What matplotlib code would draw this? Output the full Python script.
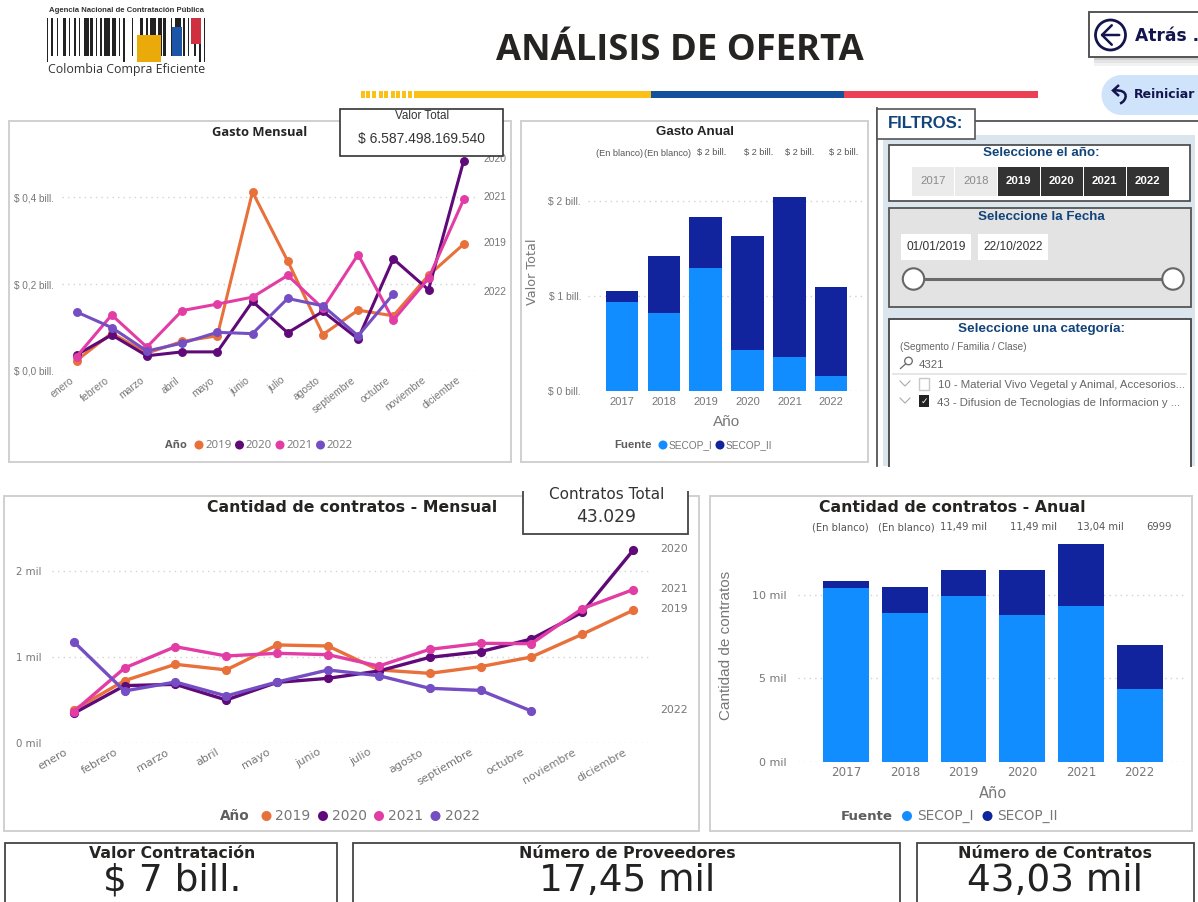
import matplotlib
matplotlib.use("Agg")
import matplotlib.pyplot as plt
from matplotlib.patches import Rectangle, FancyArrowPatch, Circle, PathPatch
from matplotlib.path import Path
from matplotlib.transforms import ScaledTranslation

W, H = 1198, 902
months = ["enero", "febrero", "marzo", "abril", "mayo", "junio", "julio", "agosto",
          "septiembre", "octubre", "noviembre", "diciembre"]
years_line = ["2019", "2020", "2021", "2022"]
years_bar = ["2017", "2018", "2019", "2020", "2021", "2022"]

gasto_2019 = [.024, .087, .041, .068, .081, .412, .253, .084, .140, .127, .220, .292]
gasto_2020 = [.037, .083, .035, .044, .044, .160, .088, .137, .074, .258, .187, .484]
gasto_2021 = [.033, .129, .055, .139, .154, .170, .220, .144, .268, .117, .213, .395]
gasto_2022 = [.136, .100, .046, .064, .089, .086, .167, .150, .081, .177]

anual_valor_I = [.938, .822, 1.293, .429, .355, .158]
anual_valor_II = [.113, .595, .535, 1.205, 1.684, .935]
anual_valor_labels = ["(En blanco)", "(En blanco)", "$ 2 bill.", "$ 2 bill.", "$ 2 bill.", "$ 2 bill."]

cant_2019 = [.384, .725, .915, .850, 1.140, 1.128, .850, .810, .888, 1.000, 1.264, 1.543]
cant_2020 = [.345, .667, .682, .500, .705, .752, .837, .996, 1.062, 1.209, 1.519, 2.240]
cant_2021 = [.364, .872, 1.120, 1.012, 1.043, 1.027, .895, 1.089, 1.159, 1.155, 1.562, 1.783]
cant_2022 = [1.178, .605, .709, .547, .709, .849, .783, .636, .612, .372]

anual_cant_I = [10.38, 8.93, 9.92, 8.81, 9.30, 4.35]
anual_cant_II = [.42, 1.53, 1.55, 2.66, 3.72, 2.63]
anual_cant_labels = ["(En blanco)", "(En blanco)", "11,49 mil", "11,49 mil", "13,04 mil", "6999"]

line_colors = {"2019": "#E8703A", "2020": "#5F0A78", "2021": "#E23DA5", "2022": "#744EC2"}
I_COLOR, II_COLOR = "#118DFF", "#12239E"
GREY, DARK, NAVY = "#777777", "#252423", "#12447A"
SANS = ["Open Sans", "DejaVu Sans"]
NARROW = ["Liberation Sans Narrow", "Liberation Sans", "DejaVu Sans"]
ARIAL = ["Liberation Sans", "DejaVu Sans"]
WIDE = ["DejaVu Sans"]

fig = plt.figure(figsize=(W / 100, H / 100), dpi=100, facecolor="white")


def overlay(z):
    a = fig.add_axes([0, 0, 1, 1], zorder=z)
    a.set_xlim(0, W)
    a.set_ylim(H, 0)
    a.axis("off")
    a.patch.set_alpha(0)
    return a


def box_axes(x0, x1, y_top, y_bot, xlim, ylim):
    a = fig.add_axes([x0 / W, 1 - y_bot / H, (x1 - x0) / W, (y_bot - y_top) / H], zorder=1)
    a.patch.set_alpha(0)
    a.set_xlim(*xlim)
    a.set_ylim(*ylim)
    for s in a.spines.values():
        s.set_visible(False)
    return a


bg = overlay(0)
fg = overlay(2)


def rect(a, x0, y0, x1, y1, fc="white", ec="none", lw=1.0, z=1):
    a.add_patch(Rectangle((x0, y0), x1 - x0, y1 - y0, fc=fc, ec=ec, lw=lw, zorder=z))


def txt(a, x, y, s, size=9, color=DARK, weight="normal", ha="center", fam=SANS, z=5, **kw):
    return a.text(x, y, s, fontsize=size, color=color, fontweight=weight, ha=ha, va="center",
                  family=fam, zorder=z, **kw)


def legend_row(a, y, items, item_size, fam, gap=6, r=4.5):
    for xd, lab, col in items:
        a.add_patch(Circle((xd, y), r, fc=col, ec="none", zorder=5))
        txt(a, xd + gap, y, lab, item_size, GREY, ha="left", fam=fam)


def style_axes(a, ticks, labels, size, fam, xticks, xlabels, xsize, xrot=0, ypad=3, xpad=3, xshift=0):
    a.set_yticks(ticks)
    a.set_yticklabels(labels, fontsize=size, color=GREY, family=fam)
    a.set_xticks(xticks)
    if xrot:
        a.set_xticklabels(xlabels, fontsize=xsize, color=GREY, family=fam, rotation=xrot,
                          ha="right", rotation_mode="anchor")
    else:
        a.set_xticklabels(xlabels, fontsize=xsize, color=GREY, family=fam)
    a.tick_params(axis="y", length=0, pad=ypad)
    a.tick_params(axis="x", length=0, pad=xpad)
    a.grid(axis="y", color="#D4D2D0", lw=1.0, ls=(0, (1, 3)), zorder=0)
    a.set_axisbelow(True)
    if xshift:
        off = ScaledTranslation(xshift / 100, 0, fig.dpi_scale_trans)
        for lb in a.get_xticklabels():
            lb.set_transform(lb.get_transform() + off)


# ---------- header ----------
pattern = [1, 2, 1, 3, 1, 3, 2, 2, 1, 3, 1, 2, 1, 3, 3, 1, 2, 2, 1, 2, 1, 2, 4, 1, 3, 2, 1, 2,
           1, 5, 1, 5, 2, 2, 1, 2, 4, 1, 3, 1, 2, 3, 1, 2, 4, 2, 1, 2, 1, 3, 2, 2, 1, 2, 1]
unit = 158 / sum(pattern)
x = 47.0
dark = True
for w in pattern:
    if dark:
        long_bar = x < 50 or 119 < x < 127 or x > 199
        rect(bg, x, 18, x + w * unit, 62 if long_bar else 56, fc="#222222")
    x += w * unit
    dark = not dark
rect(bg, 137, 35, 161, 62, fc="#EAAB0A", z=2)
rect(bg, 172, 27, 182, 56, fc="#1C54A8", z=2)
rect(bg, 191, 18, 201, 44, fc="#CF303F", z=2)
txt(bg, 126.5, 11, "Agencia Nacional de Contratación Pública", 5.6, "#333333", "bold", fam=ARIAL)
txt(bg, 127, 70, "Colombia Compra Eficiente", 8.9, "#333333", fam=SANS)

txt(bg, 680, 51, "ANÁLISIS DE OFERTA", 26.2, "#252423", "bold", fam=SANS)
dash_x = [361, 366, 372, 379, 384, 391, 396, 402, 408, 414]
for d in dash_x:
    rect(bg, d, 90.5, d + 3.5, 97.5, fc="#FBC116")
rect(bg, 417, 90.5, 651, 97.5, fc="#FBC116")
rect(bg, 651, 90.5, 844, 97.5, fc="#13519C")
rect(bg, 844, 90.5, 1037.5, 97.5, fc="#EC4055")

# back / reset buttons
for y_s, col in [(66, "#F2F2F2"), (63, "#E4E4E4"), (60, "#D0D0D0")]:
    rect(bg, 1094, 50, 1200, y_s, fc=col)
rect(bg, 1089, 12, 1200, 56.5, fc="white", ec="#555555", lw=1.4, z=2)
bg.add_patch(Circle((1110.5, 35), 15, fc="white", ec="#14144F", lw=2.0, zorder=3))
bg.add_patch(FancyArrowPatch((1122, 35), (1097.5, 35), arrowstyle="->,head_length=7,head_width=7",
                             color="#14144F", lw=1.8, zorder=4, mutation_scale=1))
txt(bg, 1135, 36, "Atrás .", 12.3, "#14144F", "bold", ha="left", fam=WIDE)
bg.add_patch(Circle((1121.5, 95), 20, fc="#CFE4FB", ec="none", zorder=2))
rect(bg, 1121.5, 75, 1198, 115, fc="#CFE4FB", z=2)
bg.add_patch(PathPatch(Path([(1119, 85), (1113, 90.5), (1119, 96)]), fc="none", ec="#14144F", lw=1.8, zorder=4))
bg.add_patch(PathPatch(Path([(1114, 90.5), (1130, 89), (1127, 101), (1120, 103.5)],
                            [Path.MOVETO, Path.CURVE4, Path.CURVE4, Path.CURVE4]),
                       fc="none", ec="#14144F", lw=1.8, zorder=4))
txt(bg, 1134, 95, "Reiniciar", 9, "#14144F", "bold", ha="left", fam=WIDE)

# ---------- panels ----------
PANEL = "#D0D0D0"
rect(bg, 8.5, 121, 510.5, 461.5, ec=PANEL, lw=1.4)
rect(bg, 520.5, 121, 868, 461.5, ec=PANEL, lw=1.4)
rect(bg, 3.5, 495.5, 698.5, 831, ec=PANEL, lw=1.4)
rect(bg, 710, 495.5, 1192, 831, ec=PANEL, lw=1.4)

# ---------- Gasto Mensual ----------
x0 = 76.5; dx = 35.2; y0 = 371; py = 434.5
ax1 = box_axes(62, 479, 121, 371, ((62 - x0) / dx, (479 - x0) / dx), (0, (371 - 121) / py))
style_axes(ax1, [0, .2, .4], ["$ 0,0 bill.", "$ 0,2 bill.", "$ 0,4 bill."], 7.2, NARROW,
           range(12), months, 7.5, xrot=38, ypad=6, xshift=-7)
for name, vals in zip(years_line, [gasto_2019, gasto_2020, gasto_2021, gasto_2022]):
    ax1.plot(range(len(vals)), vals, color=line_colors[name], lw=2.2, marker="o", ms=5.4,
             clip_on=False, zorder=3)
txt(bg, 260, 132, "Gasto Mensual", 9.3, DARK, "bold", fam=SANS)
for lab, yy in [("2020", 159.5), ("2021", 197.5), ("2019", 243), ("2022", 292)]:
    txt(bg, 483, yy, lab, 7.4, GREY, ha="left", fam=NARROW)
txt(bg, 187, 445, "Año", 8, "#605E5C", "bold", ha="right", fam=SANS)
legend_row(bg, 445, [(199, "2019", line_colors["2019"]), (239.5, "2020", line_colors["2020"]),
                     (280, "2021", line_colors["2021"]), (320.5, "2022", line_colors["2022"])],
           8.2, SANS)

rect(fg, 339.5, 108.5, 503, 155.5, ec="#333333", lw=1.2)
txt(fg, 422, 116, "Valor Total", 8.4, "#333333", fam=NARROW)
txt(fg, 422, 139, "$ 6.587.498.169.540", 10, "#333333", fam=ARIAL)

# ---------- Gasto Anual ----------
x0 = 622; dx = 41.85; y0 = 390.7; py = 94.85
ax2 = box_axes(588, 866, 121, y0, ((588 - x0) / dx, (866 - x0) / dx), (0, (y0 - 121) / py))
style_axes(ax2, [0, 1, 2], ["$ 0 bill.", "$ 1 bill.", "$ 2 bill."], 7.4, NARROW,
           range(6), years_bar, 8, ypad=5, xpad=4.5)
ax2.bar(range(6), anual_valor_I, width=.775, color=I_COLOR, zorder=3)
ax2.bar(range(6), anual_valor_II, width=.775, bottom=anual_valor_I, color=II_COLOR, zorder=3)
txt(bg, 694.5, 132, "Gasto Anual", 9.6, DARK, "bold", fam=NARROW)
for xl, lab in zip([620, 667.5, 712, 759, 800, 844], anual_valor_labels):
    txt(bg, xl, 153, lab, 6.6, "#555555", fam=NARROW)
txt(bg, 532, 272, "Valor Total", 9.2, GREY, fam=WIDE, rotation=90)
txt(bg, 727, 422, "Año", 11, GREY, fam=NARROW)
txt(bg, 633, 445, "Fuente", 8.2, "#605E5C", "bold", ha="center", fam=NARROW)
legend_row(bg, 445, [(663, "SECOP_I", I_COLOR), (720, "SECOP_II", II_COLOR)], 7.3, NARROW)

# ---------- Filtros ----------
rect(bg, 877, 120, 1200, 466, fc="white")
bg.plot([877, 877], [108, 466], color="#555555", lw=1.3, zorder=2)
bg.plot([975, 1198], [120.5, 120.5], color="#444444", lw=1.2, zorder=2)
rect(bg, 883, 135, 1195, 466, fc="#DBE5EE", z=2)
rect(bg, 877, 108.5, 975, 139, fc="white", ec="#555555", lw=1.2, z=3)
txt(bg, 925.5, 124, "FILTROS:", 12, NAVY, "bold", fam=ARIAL)

rect(bg, 889, 144.5, 1190, 201, fc="white", ec="#444444", lw=1.2, z=3)
txt(bg, 1041, 153, "Seleccione el año:", 9.6, NAVY, "bold", fam=ARIAL)
for i, y in enumerate(years_bar):
    on = i >= 2
    xb = 912 + i * 43
    rect(bg, xb, 167, xb + 41.5, 195.5, fc="#333333" if on else "#EBEBEB", z=4)
    txt(bg, xb + 20.7, 181, y, 8.2, "white" if on else "#8A8A8A", "bold" if on else "normal", fam=NARROW)

rect(bg, 888.5, 208, 1191, 307, fc="#E3E3E3", ec="#555555", lw=1.3, z=3)
txt(bg, 1041, 217, "Seleccione la Fecha", 9.6, NAVY, "bold", fam=ARIAL)
rect(bg, 901, 234, 971, 260, z=4)
rect(bg, 977.5, 234, 1048, 260, z=4)
txt(bg, 936, 247, "01/01/2019", 8.6, "#333333", fam=NARROW)
txt(bg, 1013, 247, "22/10/2022", 8.6, "#333333", fam=NARROW)
bg.plot([913, 1173], [279, 279], color="#6A6A6A", lw=2.2, zorder=4)
for xc in (913.5, 1173):
    bg.add_patch(Circle((xc, 279), 10.7, fc="white", ec="#666666", lw=1.5, zorder=5))

rect(bg, 888.5, 319, 1191, 480, ec="#444444", lw=1.3, z=3)
txt(bg, 1041, 329, "Seleccione una categoría:", 9.7, NAVY, "bold", fam=ARIAL)
txt(bg, 900, 347, "(Segmento / Familia / Clase)", 7.2, "#666666", ha="left", fam=NARROW)
bg.add_patch(Circle((908.5, 361), 3.8, fc="none", ec="#666666", lw=.9, zorder=5))
bg.plot([900.5, 905.5], [368.5, 364], color="#666666", lw=.9, zorder=5)
txt(bg, 919, 365, "4321", 8.2, "#666666", ha="left", fam=NARROW)
bg.plot([893, 1186], [373.5, 373.5], color="#E2E2E2", lw=1.2, zorder=5)
for yy in (384, 401):
    bg.plot([900, 905, 910], [yy - 3, yy + 2, yy - 3], color="#AAAAAA", lw=.8, zorder=5)
rect(bg, 919, 378, 929, 389.5, fc="white", ec="#C8C8C8", lw=1, z=5)
rect(bg, 919, 395, 929, 407, fc="#222222", z=5)
txt(bg, 924, 401, "✓", 6.5, "white", fam=WIDE, z=6)
txt(bg, 937.5, 384.5, "10 - Material Vivo Vegetal y Animal, Accesorios...", 8.2, "#666666", ha="left", fam=NARROW, z=6)
txt(bg, 937, 403, "43 - Difusion de Tecnologias de Informacion y ...", 8.2, "#666666", ha="left", fam=NARROW, z=6)
rect(bg, 870, 466.5, 1198, 491, z=4)

# ---------- Cantidad mensual ----------
x0 = 73.7; dx = 50.85; y0 = 743; py = 86
ax3 = box_axes(52, 652, 496, y0, ((52 - x0) / dx, (652 - x0) / dx), (0, (y0 - 496) / py))
style_axes(ax3, [0, 1, 2], ["0 mil", "1 mil", "2 mil"], 7.4, WIDE, range(12), months, 8, xrot=30,
           ypad=7.5, xshift=-10)
for name, vals in zip(years_line, [cant_2019, cant_2020, cant_2021, cant_2022]):
    ax3.plot(range(len(vals)), vals, color=line_colors[name], lw=2.4, marker="o", ms=5.6,
             clip_on=False, zorder=3)
txt(bg, 352, 507, "Cantidad de contratos - Mensual", 11.3, DARK, "bold", fam=WIDE)
for lab, yy in [("2020", 549), ("2021", 589), ("2019", 609), ("2022", 710)]:
    txt(bg, 660, yy, lab, 7.8, GREY, ha="left", fam=WIDE)
txt(bg, 250, 816, "Año", 9.8, "#605E5C", "bold", ha="right", fam=WIDE)
legend_row(bg, 816, [(266.5, "2019", line_colors["2019"]), (323, "2020", line_colors["2020"]),
                     (379, "2021", line_colors["2021"]), (435.5, "2022", line_colors["2022"])],
           10, WIDE, gap=9, r=5)
rect(fg, 522.5, 470, 688, 534, ec="#444444", lw=1.3)
txt(fg, 606.5, 494.5, "Contratos Total", 11, "#333333", fam=WIDE)
txt(fg, 606.5, 517.5, "43.029", 12.3, "#333333", fam=WIDE)
rect(fg, 0, 466.5, 1198, 491)

# ---------- Cantidad anual ----------
x0 = 846; dx = 58.75; y0 = 762.3; py = 16.77
ax4 = box_axes(798, 1186, 496, y0, ((798 - x0) / dx, (1186 - x0) / dx), (0, (y0 - 496) / py))
style_axes(ax4, [0, 5, 10], ["0 mil", "5 mil", "10 mil"], 8, WIDE, range(6), years_bar, 8.6, ypad=8)
ax4.bar(range(6), anual_cant_I, width=.78, color=I_COLOR, zorder=3)
ax4.bar(range(6), anual_cant_II, width=.78, bottom=anual_cant_I, color=II_COLOR, zorder=3)
txt(bg, 952, 507, "Cantidad de contratos - Anual", 11.3, DARK, "bold", fam=WIDE)
for xl, lab in zip([840.5, 906, 963, 1033, 1100, 1159], anual_cant_labels):
    txt(bg, xl, 527, lab, 7.2, "#555555", fam=WIDE)
txt(bg, 726.5, 645, "Cantidad de contratos", 11, GREY, fam=NARROW, rotation=90)
txt(bg, 993, 793, "Año", 10.5, GREY, fam=WIDE)
txt(bg, 866.5, 816, "Fuente", 9.6, "#605E5C", "bold", fam=WIDE)
legend_row(bg, 816, [(907, "SECOP_I", I_COLOR), (987.5, "SECOP_II", II_COLOR)], 9.8, WIDE, gap=10, r=5)

# ---------- KPI cards ----------
for xa, xb, title, value, xc, ts, vs in [
    (5, 337, "Valor Contratación", "$ 7 bill.", 172, 11.3, 27),
    (352.5, 900, "Número de Proveedores", "17,45 mil", 627, 11.4, 27),
    (916.5, 1194, "Número de Contratos", "43,03 mil", 1055, 11.5, 27),
]:
    rect(bg, xa, 842.5, xb, 920, ec="#444444", lw=1.3)
    txt(bg, xc, 854, title, ts, DARK, "bold", fam=WIDE)
    txt(bg, xc, 881, value, vs, "#222222", fam=WIDE)

fig.savefig("out.png", dpi=100)
